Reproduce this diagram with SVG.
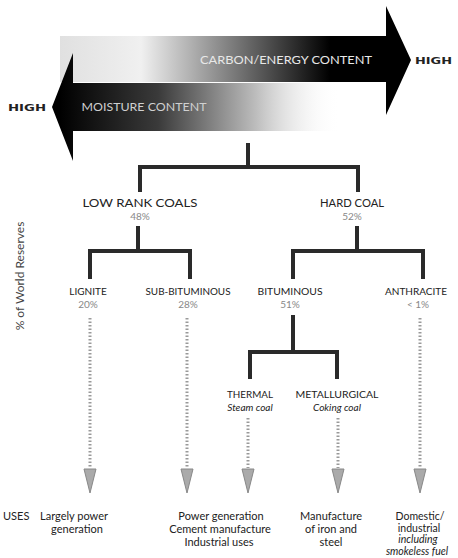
<svg xmlns="http://www.w3.org/2000/svg" width="458" height="558" viewBox="0 0 458 558">
<style>
text{font-family:"Lato","Liberation Sans",sans-serif;fill:#222}
.t{font-size:11.5px;text-anchor:middle}
.s{font-size:10px;text-anchor:middle}
.p{font-size:10px;text-anchor:middle;fill:#888}
.i{font-size:10px;text-anchor:middle;font-style:italic}
.u{font-size:11px;text-anchor:middle}
.hi{font-family:"DejaVu Sans","Liberation Sans",sans-serif;font-weight:bold;font-size:9.5px}
.tree{fill:none;stroke:#2a2a2a;stroke-width:4;stroke-linejoin:miter;stroke-linecap:square}
.dot{fill:none;stroke:#9a9a9a;stroke-width:3;stroke-dasharray:1.5 2}
.ah{fill:#aaa;stroke:#888;stroke-width:1}
</style>
<defs>
<linearGradient id="gTop" gradientUnits="userSpaceOnUse" x1="60" y1="0" x2="330" y2="0">
<stop offset="0" stop-color="#e0e0e0"/>
<stop offset="0.3" stop-color="#f0f0f0"/>
<stop offset="0.55" stop-color="#9a9a9a"/>
<stop offset="1" stop-color="#000"/>
</linearGradient>
<linearGradient id="gBot" gradientUnits="userSpaceOnUse" x1="60" y1="0" x2="340" y2="0">
<stop offset="0" stop-color="#000"/>
<stop offset="0.35" stop-color="#3a3a3a"/>
<stop offset="0.7" stop-color="#bdbdbd"/>
<stop offset="1" stop-color="#fff" stop-opacity="0"/>
</linearGradient>
</defs>
<rect width="458" height="558" fill="#fff"/>

<g id="arrow-carbon">
<polygon points="60,36 386,36 386,6 411,60 386,115 386,82 60,82" fill="url(#gTop)"/>
<text x="286" y="64" font-size="10.5" text-anchor="middle" textLength="172" lengthAdjust="spacingAndGlyphs" style="fill:#e8e8e8">CARBON/ENERGY  CONTENT</text>
<text class="hi" x="415" y="64" textLength="37" lengthAdjust="spacingAndGlyphs">HIGH</text>
</g>

<g id="arrow-moisture">
<polygon points="52,107 73,53 73,83 345,83 345,131 73,131 73,161" fill="url(#gBot)"/>
<text x="144" y="111" font-size="10.5" text-anchor="middle" textLength="125" lengthAdjust="spacingAndGlyphs" style="fill:#d0d0d0">MOISTURE CONTENT</text>
<text class="hi" x="8" y="111" textLength="38" lengthAdjust="spacingAndGlyphs">HIGH</text>
</g>

<g id="axis-label">
<text x="0" y="0" font-size="12" text-anchor="middle" transform="translate(24,276) rotate(-90)" style="fill:#444">% of World Reserves</text>
</g>

<g id="connectors">
<path class="tree" d="M248,145 V167 M140,190 V167 H358 V190"/>
<path class="tree" d="M138,228 V251 M90,277 V251 H190 V277"/>
<path class="tree" d="M357,228 V251 M293,277 V251 H423 V277"/>
<path class="tree" d="M293,317 V352 M250,377 V352 H337 V377"/>
<path class="dot" d="M90,318 V468 M187,318 V468 M248,418 V468 M338,418 V468 M420,318 V468"/>
<polygon class="ah" points="84,469 96,469 90,493"/>
<polygon class="ah" points="181,469 193,469 187,493"/>
<polygon class="ah" points="242,469 254,469 248,493"/>
<polygon class="ah" points="332,469 344,469 338,493"/>
<polygon class="ah" points="414,469 426,469 420,493"/>
</g>

<g id="low-rank">
<text class="t" x="140" y="207" textLength="115" lengthAdjust="spacingAndGlyphs">LOW RANK COALS</text>
<text class="p" x="140" y="220">48%</text>
</g>
<g id="hard-coal">
<text class="t" x="352" y="207" textLength="64" lengthAdjust="spacingAndGlyphs">HARD COAL</text>
<text class="p" x="352" y="220">52%</text>
</g>
<g id="lignite">
<text class="s" x="88" y="295">LIGNITE</text>
<text class="p" x="88" y="308">20%</text>
</g>
<g id="sub-bituminous">
<text class="s" x="188" y="295" textLength="85" lengthAdjust="spacingAndGlyphs">SUB-BITUMINOUS</text>
<text class="p" x="188" y="308">28%</text>
</g>
<g id="bituminous">
<text class="s" x="290" y="295" textLength="65" lengthAdjust="spacingAndGlyphs">BITUMINOUS</text>
<text class="p" x="290" y="308">51%</text>
</g>
<g id="anthracite">
<text class="s" x="416" y="295" textLength="62" lengthAdjust="spacingAndGlyphs">ANTHRACITE</text>
<text class="p" x="418" y="308">&lt; 1%</text>
</g>
<g id="thermal">
<text class="s" x="250" y="398" textLength="46" lengthAdjust="spacingAndGlyphs">THERMAL</text>
<text class="i" x="250" y="411">Steam coal</text>
</g>
<g id="metallurgical">
<text class="s" x="337" y="398" textLength="83" lengthAdjust="spacingAndGlyphs">METALLURGICAL</text>
<text class="i" x="337" y="411">Coking coal</text>
</g>

<g id="uses">
<text class="u" x="3" y="520" style="text-anchor:start">USES</text>
<text class="u" x="74" y="520">Largely power</text>
<text class="u" x="77" y="533">generation</text>
<text class="u" x="221" y="520">Power generation</text>
<text class="u" x="220" y="533">Cement manufacture</text>
<text class="u" x="219" y="546">Industrial uses</text>
<text class="u" x="331" y="520">Manufacture</text>
<text class="u" x="331" y="533">of iron and</text>
<text class="u" x="331" y="546">steel</text>
<text class="u" x="420" y="520" style="font-size:10.5px">Domestic/</text>
<text class="u" x="419" y="531.5" style="font-size:10.5px">industrial</text>
<text class="u" x="418" y="543" style="font-size:10.5px;font-style:italic">including</text>
<text class="u" x="417" y="554.5" style="font-size:10.5px;font-style:italic">smokeless fuel</text>
</g>
</svg>
